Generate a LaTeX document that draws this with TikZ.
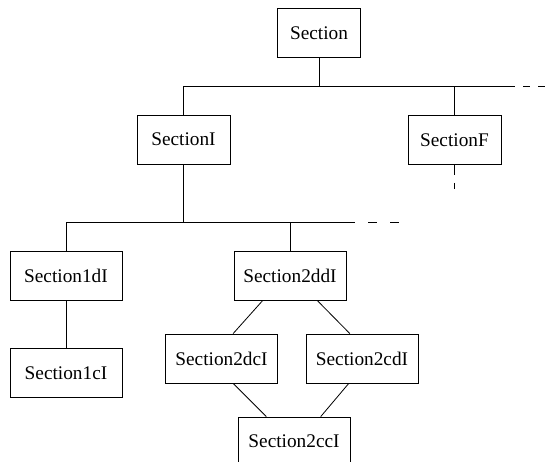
\documentclass[tikz,border=0pt]{standalone}
\usepackage{fontspec}
\setmainfont{Liberation Serif}
\usetikzlibrary{positioning}

\begin{document}
\begin{tikzpicture}[x=1pt,y=-1pt,line width=0.8pt,
  box/.style={draw,minimum height=49pt,minimum width=112pt,inner xsep=8pt,font=\fontsize{19.3}{23}\selectfont}]
\useasboundingbox (0,0) rectangle (556,461);
\node[box,minimum width=83pt] (s) at (319,33) {Section};
\node[box,minimum width=93pt] (si) at (183.5,139.5) {SectionI};
\node[box,minimum width=93pt] (sf) at (454.5,140) {SectionF};
\node[box] (s1d) at (66,276) {Section1dI};
\node[box] (s2dd) at (290,276) {Section2ddI};
\node[box] (s1c) at (66,373) {Section1cI};
\node[box] (s2dc) at (221.5,358.5) {Section2dcI};
\node[box] (s2cd) at (362,358.5) {Section2cdI};
\node[box] (s2cc) at (294,441.5) {Section2ccI};
\coordinate (topbar) at (515,86);
\coordinate (topend) at (545,86);
\coordinate (midbar) at (355,222);
\coordinate (midend) at (400,222);
\path[draw]
(s) edge (s |- topbar)
(si |- topbar) edge (topbar)
(si) edge (si |- topbar)
(sf) edge (sf |- topbar)
(si) edge (si |- midbar)
(s1d |- midbar) edge (midbar)
(s1d) edge (s1d |- midbar)
(s2dd) edge (s2dd |- midbar)
(s1d) edge (s1c)
(s2dd.-138) edge (s2dc.65)
(s2dd.-42) edge (s2cd.116)
(s2dc.-65) edge (s2cc.138)
(s2cd.-118) edge (s2cc.43);
\draw[dash pattern=on 7pt off 8pt,dash phase=7pt] (topbar) -- (topend);
\draw[dash pattern=on 9pt off 13pt,dash phase=9pt] (midbar) -- (midend);
\draw[dash pattern=on 10pt off 8pt] (sf.south) -- ++(0,24);
\end{tikzpicture}
\end{document}
